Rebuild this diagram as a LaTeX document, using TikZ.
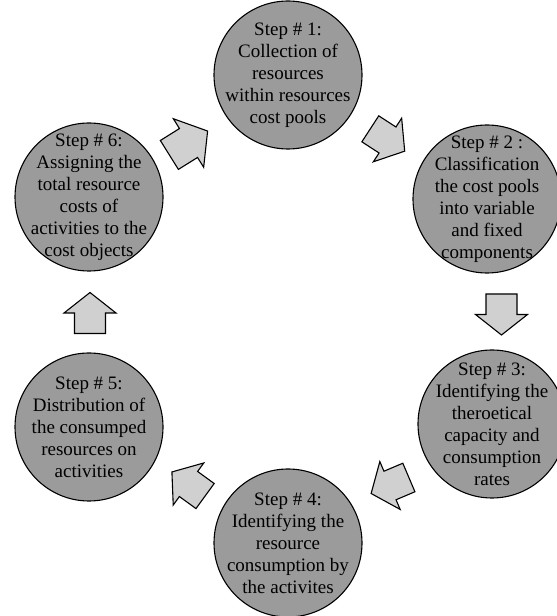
\documentclass[tikz,border=0pt]{standalone}
\usepackage{fontspec}
\setmainfont{Liberation Serif}
\usetikzlibrary{calc}
\definecolor{stepgray}{RGB}{155,155,155}
\definecolor{arrowgray}{RGB}{208,208,208}

\begin{document}
\begin{tikzpicture}[x=1pt,y=1pt,
    stepcircle/.style={circle,draw,line width=1.1pt,fill=stepgray,minimum size=148pt,inner sep=0pt},
    steptext/.style={align=center,inner sep=0pt,font=\fontsize{19}{22}\selectfont},
    blockarrow/.style={draw,line width=1.1pt,fill=arrowgray,line join=miter}]
    \useasboundingbox (0,0) rectangle (557,616);

    \foreach \n/\x/\y in {1/288/541, 2/487/417, 3/492/192, 4/288/73, 5/89/189, 6/89/419}
      {\node[stepcircle] (s\n) at (\x,\y) {};}

    \node[steptext] (t1) at (s1) {Step \# 1:\\Collection of\\resources\\within resources\\cost pools};
    \node[steptext] (t2) at (s2) {Step \# 2 :\\Classification\\the cost pools\\into variable\\and fixed\\components};
    \node[steptext] (t3) at (s3) {Step \# 3:\\Identifying the\\theroetical\\capacity and\\consumption\\rates};
    \node[steptext] (t4) at (s4) {Step \# 4:\\Identifying the\\resource\\consumption by\\the activites};
    \node[steptext] (t5) at (s5) {Step \# 5:\\Distribution of\\the consumped\\resources on\\activities};
    \node[steptext] (t6) at (s6) {Step \# 6:\\Assigning the\\total resource\\costs of\\activities to the\\cost objects};

    \foreach \a/\b/\ang/\dx/\dy/\sc in {1/2/-33/0/-3/1, 2/3/-90/12/-3/1, 3/4/203/0/-2/1, 4/5/144/0/1/1, 5/6/90/1/-1/1, 6/1/32/0/-7/1.1}
      {\coordinate (m\a\b) at ($(s\a)!.5!(s\b)+(\dx,\dy)$);
       \draw[blockarrow,shift={(m\a\b)},rotate=\ang,scale=\sc]
         (-20.5,15.5) -- (0,15.5) -- (0,26) -- (20.5,0) -- (0,-26) -- (0,-15.5) -- (-20.5,-15.5) -- cycle;}
\end{tikzpicture}
\end{document}
